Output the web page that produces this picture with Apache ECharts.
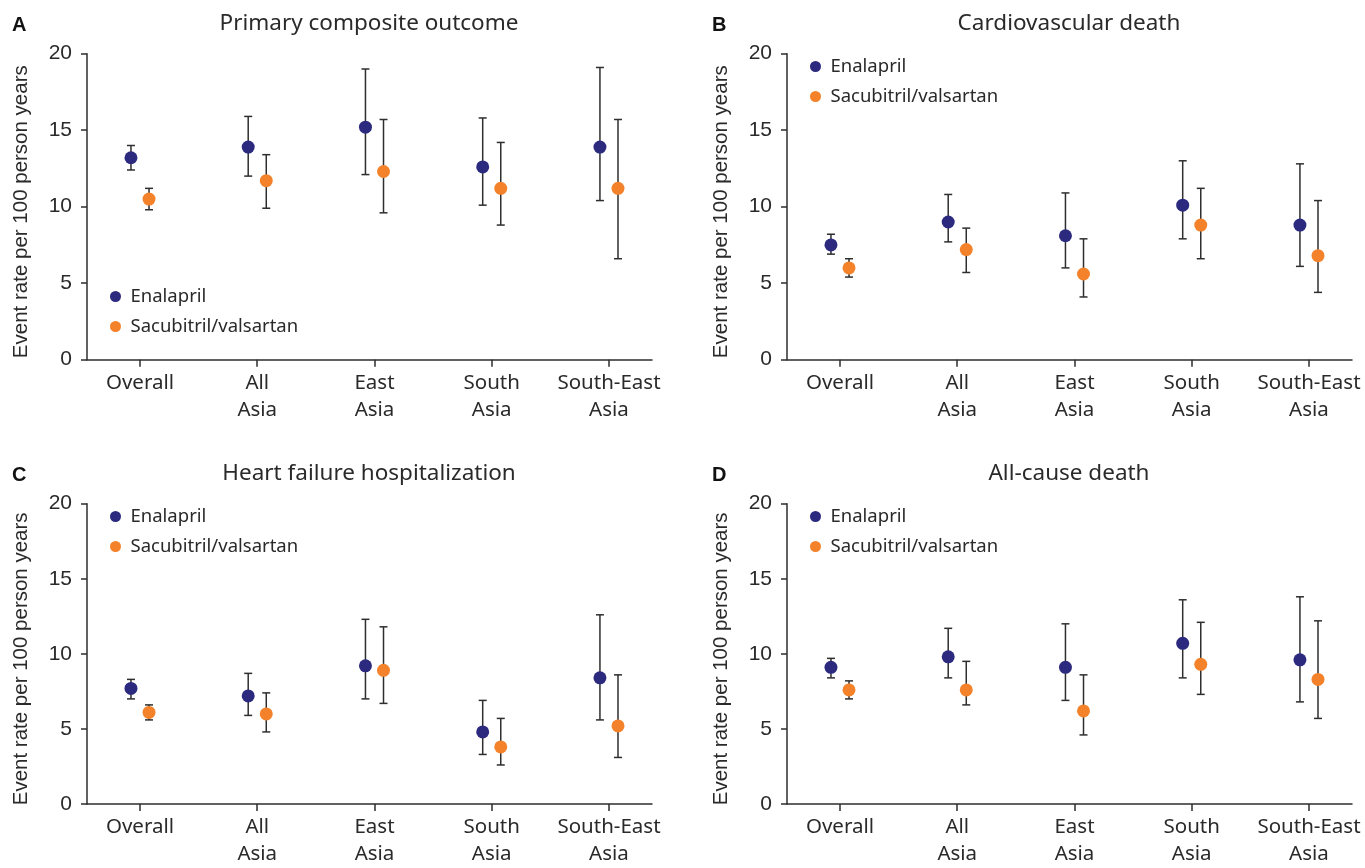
<!DOCTYPE html>
<html>
<head>
<meta charset="utf-8">
<script src="https://cdn.jsdelivr.net/npm/echarts@6/dist/echarts.min.js"></script>
<style>
  html, body { margin: 0; padding: 0; background: #fff; }
  #main { width: 1365px; height: 868px; }
</style>
</head>
<body>
<div id="main"></div>
<script>
// categories on the x axis
var regions = ["Overall", "All\nAsia", "East\nAsia", "South\nAsia", "South-East\nAsia"];

// A: primary composite outcome
var pcoEnaRate = [13.2, 13.9, 15.2, 12.6, 13.9];
var pcoEnaLow  = [12.4, 12.0, 12.1, 10.1, 10.4];
var pcoEnaHigh = [14.0, 15.9, 19.0, 15.8, 19.1];
var pcoSacRate = [10.5, 11.7, 12.3, 11.2, 11.2];
var pcoSacLow  = [9.8, 9.9, 9.6, 8.8, 6.6];
var pcoSacHigh = [11.2, 13.4, 15.7, 14.2, 15.7];

// B: cardiovascular death
var cvdEnaRate = [7.5, 9.0, 8.1, 10.1, 8.8];
var cvdEnaLow  = [6.9, 7.7, 6.0, 7.9, 6.1];
var cvdEnaHigh = [8.2, 10.8, 10.9, 13.0, 12.8];
var cvdSacRate = [6.0, 7.2, 5.6, 8.8, 6.8];
var cvdSacLow  = [5.4, 5.7, 4.1, 6.6, 4.4];
var cvdSacHigh = [6.6, 8.6, 7.9, 11.2, 10.4];

// C: heart failure hospitalization
var hfhEnaRate = [7.7, 7.2, 9.2, 4.8, 8.4];
var hfhEnaLow  = [7.0, 5.9, 7.0, 3.3, 5.6];
var hfhEnaHigh = [8.3, 8.7, 12.3, 6.9, 12.6];
var hfhSacRate = [6.1, 6.0, 8.9, 3.8, 5.2];
var hfhSacLow  = [5.6, 4.8, 6.7, 2.6, 3.1];
var hfhSacHigh = [6.6, 7.4, 11.8, 5.7, 8.6];

// D: all-cause death
var acdEnaRate = [9.1, 9.8, 9.1, 10.7, 9.6];
var acdEnaLow  = [8.4, 8.4, 6.9, 8.4, 6.8];
var acdEnaHigh = [9.7, 11.7, 12.0, 13.6, 13.8];
var acdSacRate = [7.6, 7.6, 6.2, 9.3, 8.3];
var acdSacLow  = [7.0, 6.6, 4.6, 7.3, 5.7];
var acdSacHigh = [8.2, 9.5, 8.6, 12.1, 12.2];

var panels = [
  { letter: "A", title: "Primary composite outcome", dx: 0, dy: 0, legendTop: 282,
    ena: [pcoEnaRate, pcoEnaLow, pcoEnaHigh], sac: [pcoSacRate, pcoSacLow, pcoSacHigh] },
  { letter: "B", title: "Cardiovascular death", dx: 700, dy: 0, legendTop: 52,
    ena: [cvdEnaRate, cvdEnaLow, cvdEnaHigh], sac: [cvdSacRate, cvdSacLow, cvdSacHigh] },
  { letter: "C", title: "Heart failure hospitalization", dx: 0, dy: 450, legendTop: 502,
    ena: [hfhEnaRate, hfhEnaLow, hfhEnaHigh], sac: [hfhSacRate, hfhSacLow, hfhSacHigh] },
  { letter: "D", title: "All-cause death", dx: 700, dy: 450, legendTop: 502,
    ena: [acdEnaRate, acdEnaLow, acdEnaHigh], sac: [acdSacRate, acdSacLow, acdSacHigh] }
];

var ENA_COLOR = "#2c2a7e";
var SAC_COLOR = "#f4822a";
var AXIS_COLOR = "#2e2e2e";
var TEXT_COLOR = "#2a2a2a";
var SHIFT = 0.077; // dodge of the two groups around each category

function errorBar(params, api) {
  var x = api.value(0);
  var lo = api.coord([x, api.value(1)]);
  var hi = api.coord([x, api.value(2)]);
  var half = 4;
  var st = { stroke: AXIS_COLOR, lineWidth: 1.5 };
  return {
    type: "group",
    children: [
      { type: "line", shape: { x1: lo[0], y1: lo[1], x2: hi[0], y2: hi[1] }, style: st },
      { type: "line", shape: { x1: hi[0] - half, y1: hi[1], x2: hi[0] + half, y2: hi[1] }, style: st },
      { type: "line", shape: { x1: lo[0] - half, y1: lo[1], x2: lo[0] + half, y2: lo[1] }, style: st }
    ]
  };
}

var grids = [], xAxes = [], yAxes = [], series = [], legends = [], graphics = [];

panels.forEach(function (p, k) {
  grids.push({ left: 87 + p.dx, top: 53.7 + p.dy, width: 565, height: 306 });

  xAxes.push({
    type: "value", gridIndex: k, min: -0.452, max: 4.367,
    splitLine: { show: false },
    axisLine: { show: true, lineStyle: { color: AXIS_COLOR, width: 1.5 } },
    axisTick: { show: true, length: 7, customValues: [0, 1, 2, 3, 4], lineStyle: { color: AXIS_COLOR, width: 1.5 } },
    axisLabel: {
      customValues: [0, 1, 2, 3, 4],
      formatter: function (v) { return regions[Math.round(v)]; },
      fontFamily: "Noto Sans", fontSize: 20.5, color: TEXT_COLOR, lineHeight: 27, margin: 10
    }
  });

  yAxes.push({
    type: "value", gridIndex: k, min: 0, max: 20, interval: 5,
    name: "Event rate per 100 person years", nameLocation: "middle", nameGap: 55,
    nameTextStyle: { fontFamily: "Liberation Sans", fontSize: 20.5, color: TEXT_COLOR, padding: [0, 10, 0, 0] },
    splitLine: { show: false },
    axisLine: { show: true, onZero: false, lineStyle: { color: AXIS_COLOR, width: 1.5 } },
    axisTick: { show: true, length: 6, lineStyle: { color: AXIS_COLOR, width: 1.5 } },
    axisLabel: { fontFamily: "Liberation Sans", fontSize: 21, color: TEXT_COLOR, margin: 15 }
  });

  var groups = [
    { name: "Enalapril", d: p.ena, off: -SHIFT, color: ENA_COLOR },
    { name: "Sacubitril/valsartan", d: p.sac, off: SHIFT, color: SAC_COLOR }
  ];

  groups.forEach(function (g) {
    var bars = [], pts = [];
    for (var i = 0; i < regions.length; i++) {
      bars.push([i + g.off, g.d[1][i], g.d[2][i]]);
      pts.push([i + g.off, g.d[0][i]]);
    }
    series.push({
      type: "custom", xAxisIndex: k, yAxisIndex: k, renderItem: errorBar,
      encode: { x: 0, y: [1, 2] }, data: bars, z: 2, silent: true
    });
    series.push({
      name: g.name, type: "scatter", xAxisIndex: k, yAxisIndex: k,
      data: pts, symbolSize: 13, itemStyle: { color: g.color, opacity: 1 }, z: 3
    });
  });

  legends.push({
    orient: "vertical", left: 105 + p.dx, top: p.legendTop,
    itemWidth: 20, itemHeight: 11, itemGap: 11, icon: "circle",
    data: ["Enalapril", "Sacubitril/valsartan"],
    textStyle: { fontFamily: "Noto Sans", fontSize: 18.5, color: TEXT_COLOR },
    selectedMode: false
  });

  graphics.push({
    type: "text", x: 12 + p.dx, y: 25 + p.dy,
    style: { text: p.letter, font: "bold 20px 'Liberation Sans'", fill: "#111", verticalAlign: "middle" }
  });
  graphics.push({
    type: "text", x: 369 + p.dx, y: 24 + p.dy,
    style: { text: p.title, font: "22.5px 'Noto Sans'", fill: TEXT_COLOR, align: "center", verticalAlign: "middle" }
  });
});

var chart = echarts.init(document.getElementById("main"));
chart.setOption({
  backgroundColor: "#fff",
  animation: false,
  grid: grids,
  xAxis: xAxes,
  yAxis: yAxes,
  legend: legends,
  graphic: graphics,
  series: series
});
</script>
</body>
</html>
